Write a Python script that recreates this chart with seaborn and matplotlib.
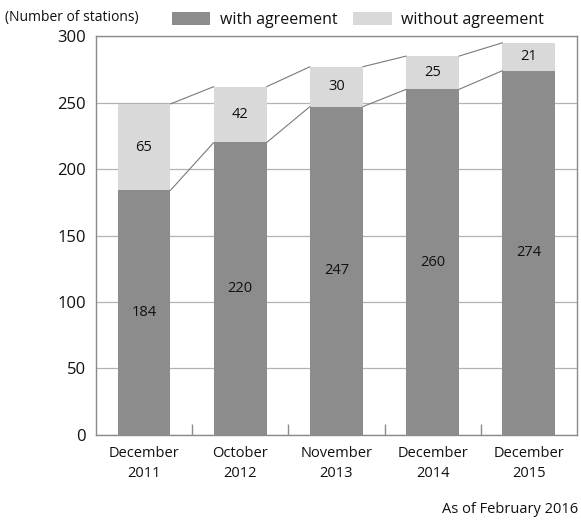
import matplotlib
matplotlib.use("Agg")
import matplotlib.pyplot as plt
from matplotlib.patches import Patch
import seaborn as sns
import pandas as pd

# Data
periods = ["December\n2011", "October\n2012", "November\n2013", "December\n2014", "December\n2015"]
with_agreement = [184, 220, 247, 260, 274]
without_agreement = [65, 42, 30, 25, 21]

DARK = "#8c8c8c"
LIGHT = "#d9d9d9"
LINE = "#7a7a7a"
TEXT = "#111111"

sns.set_theme(style="white")
plt.rcParams["font.family"] = ["Open Sans", "DejaVu Sans"]

totals = [a + b for a, b in zip(with_agreement, without_agreement)]
df = pd.DataFrame({"period": periods, "with": with_agreement,
                   "without": without_agreement, "total": totals})

fig = plt.figure(figsize=(5.81, 5.24), dpi=100)
ax = fig.add_axes([0.165, 0.170, 0.828, 0.761])

bar_w = 0.55
# light total bars underneath, dark agreement bars over them
sns.barplot(data=df, x="period", y="total", color=LIGHT, width=bar_w,
            saturation=1, ax=ax, edgecolor="none", zorder=3)
sns.barplot(data=df, x="period", y="with", color=DARK, width=bar_w,
            saturation=1, ax=ax, edgecolor="none", zorder=4)

# connectors between adjacent bar tops
half = bar_w / 2
for i in range(len(periods) - 1):
    ax.plot([i + half, i + 1 - half], [totals[i], totals[i + 1]],
            color=LINE, lw=0.8, zorder=5)
    ax.plot([i + half, i + 1 - half], [with_agreement[i], with_agreement[i + 1]],
            color=LINE, lw=0.8, zorder=5)

# segment value labels
for i in range(len(periods)):
    ax.text(i, with_agreement[i] / 2, str(with_agreement[i]), ha="center",
            va="center", fontsize=10.5, color=TEXT, zorder=6)
    ax.text(i, with_agreement[i] + without_agreement[i] / 2,
            str(without_agreement[i]), ha="center", va="center",
            fontsize=10.5, color=TEXT, zorder=6)

ax.set_xlim(-0.5, len(periods) - 0.5)
ax.set_ylim(0, 300)
ax.set_yticks(range(0, 301, 50))
ax.yaxis.grid(True, color="#b3b3b3", lw=0.9, zorder=0)
ax.xaxis.grid(False)
ax.set_axisbelow(True)
ax.set_xlabel("")
ax.set_ylabel("")

for s in ax.spines.values():
    s.set_visible(True)
    s.set_color("#8a8a8a")
    s.set_linewidth(1.0)

# category separators on the baseline
ax.set_xticks([i + 0.5 for i in range(len(periods) - 1)], minor=True)
ax.tick_params(axis="x", which="minor", direction="in", length=8,
               width=1.0, color="#8a8a8a", bottom=True)
ax.tick_params(axis="x", which="major", length=0, pad=8,
               labelsize=10.5, labelcolor=TEXT)
for lbl in ax.get_xticklabels():
    lbl.set_linespacing(1.45)
ax.tick_params(axis="y", length=0, pad=7, labelsize=12, labelcolor=TEXT)

fig.text(0.008, 0.966, "(Number of stations)", fontsize=10, color=TEXT,
         ha="left", va="center")

handles = [Patch(facecolor=DARK, edgecolor="none", label="with agreement"),
           Patch(facecolor=LIGHT, edgecolor="none", label="without agreement")]
fig.legend(handles=handles, loc="center left", bbox_to_anchor=(0.296, 0.962),
           ncol=2, frameon=False, fontsize=11.5, handlelength=2.4,
           handleheight=0.9, handletextpad=0.6, columnspacing=1.0,
           labelcolor=TEXT, borderpad=0, borderaxespad=0)

fig.text(0.995, 0.027, "As of February 2016", fontsize=10.5, color=TEXT,
         ha="right", va="center")

fig.savefig("out.png", dpi=100)
